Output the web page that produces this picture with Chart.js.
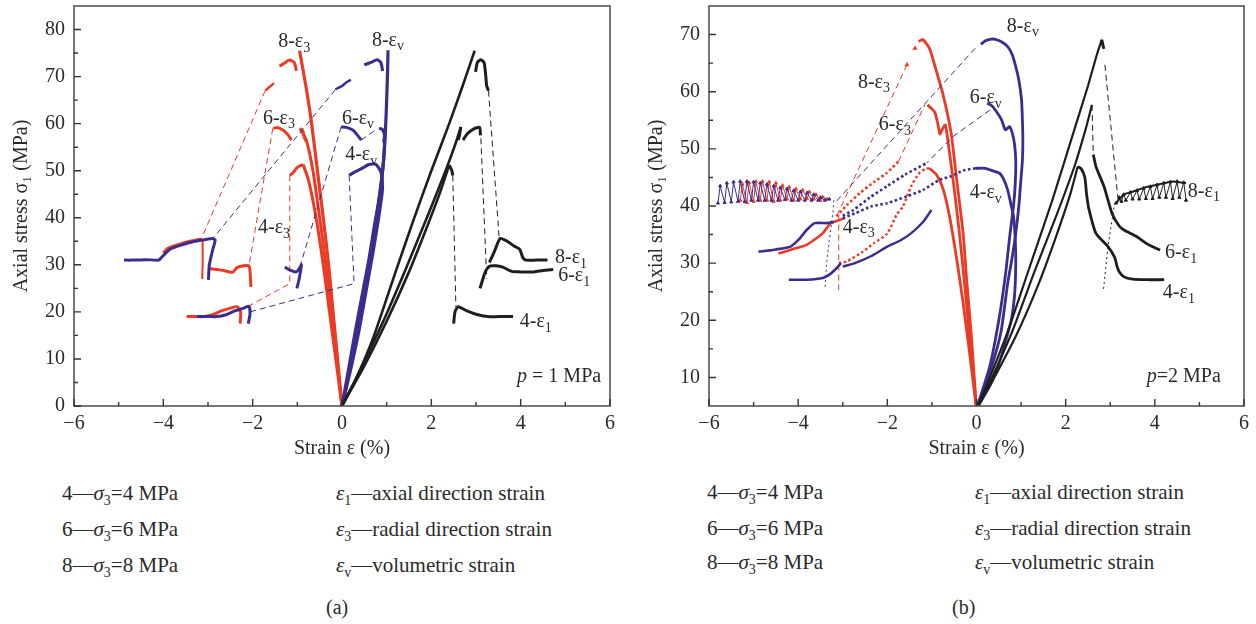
<!DOCTYPE html>
<html><head><meta charset="utf-8">
<script src="https://cdn.jsdelivr.net/npm/chart.js@4.4.1/dist/chart.umd.min.js"></script>
<style>
html,body{margin:0;padding:0;background:#fff;}
#wrap{position:relative;width:1256px;height:624px;overflow:hidden;font-family:"Liberation Serif",serif;color:#2a2a2a;}
canvas{position:absolute;top:0;}
.lg{position:absolute;font-size:21px;line-height:24px;white-space:nowrap;}
.lg sub{font-size:14px;vertical-align:-5px;line-height:0;}
.cap{position:absolute;font-size:20px;line-height:24px;}
</style></head>
<body><div id="wrap">
<canvas id="ca" width="640" height="461" style="left:0"></canvas>
<canvas id="cb" width="616" height="461" style="left:640px"></canvas>
<div class="lg" style="left:62px;top:481px">4—<i>σ</i><sub>3</sub>=4 MPa</div>
<div class="lg" style="left:62px;top:517px">6—<i>σ</i><sub>3</sub>=6 MPa</div>
<div class="lg" style="left:62px;top:553px">8—<i>σ</i><sub>3</sub>=8 MPa</div>
<div class="lg" style="left:336px;top:481px"><i>ε</i><sub>1</sub>—axial direction strain</div>
<div class="lg" style="left:336px;top:517px"><i>ε</i><sub>3</sub>—radial direction strain</div>
<div class="lg" style="left:336px;top:553px"><i>ε</i><sub>v</sub>—volumetric strain</div>
<div class="lg" style="left:707px;top:480px">4—<i>σ</i><sub>3</sub>=4 MPa</div>
<div class="lg" style="left:707px;top:516px">6—<i>σ</i><sub>3</sub>=6 MPa</div>
<div class="lg" style="left:707px;top:550px">8—<i>σ</i><sub>3</sub>=8 MPa</div>
<div class="lg" style="left:975px;top:480px"><i>ε</i><sub>1</sub>—axial direction strain</div>
<div class="lg" style="left:975px;top:516px"><i>ε</i><sub>3</sub>—radial direction strain</div>
<div class="lg" style="left:975px;top:550px"><i>ε</i><sub>v</sub>—volumetric strain</div>
<div class="cap" style="left:326px;top:595px">(a)</div>
<div class="cap" style="left:952px;top:595px">(b)</div>
</div>
<script>
// ---------- tick values ----------
const xTicks = [-6,-4,-2,0,2,4,6];
const xMinor = [-5,-3,-1,1,3,5];
const yTicksA = [0,10,20,30,40,50,60,70,80];
const yMinorA = [5,15,25,35,45,55,65,75];
const yTicksB = [10,20,30,40,50,60,70];
const yMinorB = [15,25,35,45,55,65];

// ---------- chart (a): p = 1 MPa ----------
const a_e1_8 = [[0,0],[0.3,5.5],[0.7,14.5],[1.2,28.5],[1.6,39.5],[2.0,50],[2.4,60],[2.7,68],[2.97,75.5]];
const a_e1_8_post = [[2.99,71],[3.03,73],[3.1,73.6],[3.18,73],[3.22,70],[3.24,68],[3.28,67]];
const a_e1_8_dash = [[3.28,67],[3.52,35.5]];
const a_e1_8_res = [[3.3,30.5],[3.42,33],[3.54,35.6],[3.7,35],[3.85,34],[3.98,33.3],[4.05,31.5],[4.12,31],[4.35,31],[4.6,31]];
const a_e1_6 = [[0,0],[0.4,7.5],[0.9,17.5],[1.4,28.5],[1.9,40],[2.3,49.5],[2.55,56],[2.66,59.3]];
const a_e1_6_post1 = [[2.66,59.3],[2.63,57.5],[2.6,56.5]];
const a_e1_6_post2 = [[2.71,56.5],[2.8,57.8],[2.95,58.9],[3.08,59.2],[3.1,57.5]];
const a_e1_6_dash = [[3.1,59],[3.24,27]];
const a_e1_6_res = [[3.09,25],[3.2,28.3],[3.3,29.7],[3.45,29.8],[3.6,29.5],[3.8,28.6],[4.0,28.5],[4.3,28.5],[4.5,28.8],[4.73,29]];
const a_e1_4 = [[0,0],[0.5,8.5],[1.0,18],[1.5,28.5],[1.9,38],[2.2,45.5],[2.4,51.2]];
const a_e1_4_post = [[2.4,51.2],[2.46,50],[2.48,49]];
const a_e1_4_dash = [[2.48,49],[2.55,21]];
const a_e1_4_res = [[2.5,17.5],[2.53,20],[2.6,21.1],[2.8,20.2],[3.0,19.5],[3.25,19],[3.5,19],[3.83,19]];

const a_e3_8 = [[0,0],[-0.1,10],[-0.2,20],[-0.3,30],[-0.42,40],[-0.55,50],[-0.68,60],[-0.8,67.5],[-0.95,75.5]];
const a_e3_8_post = [[-1.02,71.2],[-1.07,73],[-1.17,73.5],[-1.3,72.8],[-1.4,72.2]];
const a_e3_8_pre = [[-1.72,67],[-1.6,68],[-1.52,68.6]];
const a_e3_8_dash = [[-1.72,67],[-3.15,35.5]];
const a_e3_8_res = [[-3.15,35.5],[-3.4,35],[-3.6,34.5],[-3.9,33.5],[-4.0,32.5]];
const a_e3_8_drop = [[-3.12,35.5],[-3.12,30],[-3.13,27]];
const a_e3_6 = [[0,0],[-0.12,10],[-0.24,20],[-0.36,30],[-0.5,40],[-0.65,50],[-0.8,56.5],[-0.94,59]];
const a_e3_6_post1 = [[-1.54,59],[-1.45,59.2],[-1.3,58.5],[-1.2,57.5],[-1.13,56.5]];
const a_e3_6_post2 = [[-0.94,59],[-0.88,58.5],[-0.84,57],[-0.8,56.2]];
const a_e3_6_dash = [[-1.55,59],[-2.08,30]];
const a_e3_6_res = [[-3.0,29.2],[-2.8,29],[-2.6,28.7],[-2.45,28.4],[-2.35,29.4],[-2.2,29.8],[-2.08,29.7],[-2.05,27.5],[-2.04,25.3]];
const a_e3_4 = [[0,0],[-0.14,10],[-0.28,20],[-0.42,30],[-0.58,40],[-0.75,48],[-0.87,51.3]];
const a_e3_4_post = [[-0.87,51.3],[-0.95,51],[-1.02,50.5],[-1.1,49.5],[-1.17,49]];
const a_e3_4_dash = [[-1.17,49],[-1.17,26],[-2.06,21.4]];
const a_e3_4_res = [[-3.48,19],[-3.3,19],[-3.1,19],[-2.9,19.4],[-2.7,20.2],[-2.5,20.8],[-2.35,21.1],[-2.27,20],[-2.28,17.5]];

const a_ev_8 = [[0,0],[0.16,8.5],[0.3,16],[0.45,23.5],[0.6,31],[0.72,38],[0.83,44],[0.92,51],[0.97,58],[1.0,65],[1.02,71],[1.03,75.6]];
const a_ev_8_post = [[0.91,71.2],[0.87,73],[0.78,73.6],[0.65,73],[0.5,72.5]];
const a_ev_8_pre = [[-0.15,67.3],[0.0,68],[0.1,68.8],[0.2,69.3]];
const a_ev_8_dash = [[-0.15,67.2],[-2.9,35.5]];
const a_ev_8_res = [[-2.99,26.8],[-2.97,30],[-2.9,33],[-2.84,35.3],[-2.9,35.6],[-3.1,35.3],[-3.3,35],[-3.6,34.2],[-3.85,33.3],[-4.05,31.5],[-4.1,31],[-4.4,31.1],[-4.7,31],[-4.88,31]];
const a_ev_6 = [[0,0],[0.18,8],[0.35,17],[0.5,25],[0.65,33],[0.77,40],[0.86,46],[0.92,51],[0.95,55],[0.96,59]];
const a_ev_6_post1 = [[-0.02,59.3],[0.1,59.2],[0.25,58.6],[0.35,57.5],[0.43,56.5]];
const a_ev_6_post2 = [[0.83,59],[0.9,58.8],[0.95,57.5],[0.93,56]];
const a_ev_6_dash1 = [[-0.02,59.3],[-0.94,29.6]];
const a_ev_6_dash2 = [[0.43,56.5],[0.8,59]];
const a_ev_6_res = [[-1.28,29.5],[-1.15,28.8],[-1.02,28.5],[-0.95,29.3],[-0.91,30],[-0.96,27],[-1.01,25]];
const a_ev_4 = [[0,0],[0.2,8],[0.38,16],[0.55,25],[0.7,33],[0.82,40],[0.9,45.5],[0.9,48],[0.86,50],[0.75,51.4],[0.6,51.3],[0.45,50.5],[0.3,49.8],[0.16,49]];
const a_ev_4_dash = [[0.16,49],[0.27,26],[-2.06,20]];
const a_ev_4_res = [[-3.25,19],[-3.0,19],[-2.8,19],[-2.6,19.4],[-2.4,20.2],[-2.2,20.8],[-2.08,21.2],[-2.06,19.5],[-2.1,17.5]];

// ---------- chart (b): p = 2 MPa ----------
const b_e1_8 = [[0,4.5],[0.3,10],[0.7,18],[1.2,29.5],[1.7,41],[2.2,53.5],[2.5,61],[2.7,66.5],[2.81,69.1]];
const b_e1_8_post = [[2.81,69.1],[2.84,68],[2.86,67.5]];
const b_e1_8_dash = [[2.88,64.7],[3.17,41.5]];
const b_e1_8_dot = [[2.85,25.5],[2.95,33],[3.1,40.5]];
const b_e1_8_res = [[3.13,40.5],[3.2,41.5],[3.25,40.8],[3.3,42],[3.35,41],[3.45,42.4],[3.5,41.2],[3.6,42.7],[3.65,41.2],[3.75,43.1],[3.8,41.3],[3.9,43.4],[3.95,41.3],[4.05,43.7],[4.1,41.5],[4.2,44],[4.25,41.5],[4.35,44.2],[4.4,41.3],[4.5,44.3],[4.55,41.5],[4.65,44.1],[4.7,41]];
const b_e1_8_top = [[3.13,40.5],[3.3,42],[3.5,42.5],[3.8,43.3],[4.1,43.8],[4.4,44.3],[4.7,44]];
const b_e1_6 = [[0,4.5],[0.35,10],[0.8,18],[1.3,28.5],[1.8,38.5],[2.2,47],[2.45,53.5],[2.59,57.7]];
const b_e1_6_dash = [[2.59,57.7],[2.62,49]];
const b_e1_6_post = [[2.62,49],[2.68,46.9],[2.86,43.4],[3.04,38.7],[3.2,36.5],[3.31,35.8],[3.58,34.7],[3.8,33.5],[3.94,32.9],[4.12,32.3]];
const b_e1_4 = [[0,4.5],[0.4,10],[0.9,17.5],[1.4,26.5],[1.8,35],[2.1,42],[2.27,46.9]];
const b_e1_4_post = [[2.27,46.9],[2.35,46.5],[2.43,45],[2.47,42],[2.52,39.5],[2.68,35.2],[2.95,32.9],[3.1,31],[3.15,29.5],[3.2,28.5],[3.31,27.6],[3.5,27.2],[3.8,27.1],[4.21,27.1]];

const b_e3_8 = [[0,4.5],[-0.12,17.7],[-0.22,27],[-0.3,35.2],[-0.45,45],[-0.57,52.8],[-0.75,59.5],[-0.93,64.4],[-1.05,67.5],[-1.2,69.1],[-1.3,68.8]];
const b_e3_8_pre = [[-1.38,67.6],[-1.56,64.7]];
const b_e3_8_dash = [[-1.56,64.7],[-3.12,38.5]];
const b_e3_8_res = [[-5.3,41],[-5.25,43.8],[-5.15,40.6],[-5.1,44.1],[-5.0,40.8],[-4.95,44.3],[-4.85,41],[-4.8,44.3],[-4.7,41],[-4.65,44.2],[-4.55,40.8],[-4.5,44],[-4.4,41],[-4.35,43.6],[-4.25,41.2],[-4.2,43.3],[-4.1,41],[-4.05,43],[-3.95,41.2],[-3.9,42.8],[-3.8,41.3],[-3.75,42.5],[-3.65,41.2],[-3.6,42],[-3.5,41],[-3.45,41.6],[-3.35,41.2]];
const b_e3_6 = [[-1.1,57.7],[-1.0,57],[-0.93,56.3],[-0.87,54.5],[-0.82,52.6],[-0.78,53.2],[-0.7,54.2],[-0.66,52.5],[-0.6,49],[-0.5,43],[-0.38,35],[-0.25,25],[-0.12,14],[0,4.5]];
const b_e3_6_pre = [[-3.14,38.2],[-2.9,40.2],[-2.61,42.3],[-2.3,44.2],[-2.01,45.8],[-1.75,47.8]];
const b_e3_6_dash = [[-1.75,47.8],[-1.16,57.7]];
const b_e3_4 = [[-1.06,46.6],[-0.9,45.5],[-0.75,43],[-0.6,38],[-0.45,31],[-0.3,23],[-0.15,14],[0,4.5]];
const b_e3_4_pre = [[-3.09,30],[-2.91,30.3],[-2.55,32],[-2.3,33.5],[-2.0,35.2],[-1.79,38.5],[-1.65,39.9],[-1.47,43.4],[-1.29,45.7],[-1.15,46.5],[-1.06,46.6]];
const b_e3_res = [[-4.44,31.7],[-4.1,32.5],[-3.81,33.2],[-3.6,34.3],[-3.45,35.2],[-3.27,37],[-3.09,37.5],[-2.95,37.9]];
const b_e3_drop = [[-3.09,38.5],[-3.09,25.3]];

const b_ev_8 = [[0,4.5],[0.34,11.9],[0.55,18],[0.7,26.5],[0.8,31],[0.88,35.2],[0.95,40],[0.99,44],[1.03,48],[1.04,51.6],[1.03,55],[1.01,58.6],[0.95,62],[0.88,64.4],[0.8,66.5],[0.7,67.9],[0.55,68.8],[0.4,69.2],[0.33,69.2],[0.2,68.9],[0.1,68.3]];
const b_ev_8_dash = [[-0.03,67.6],[-3.18,40.5]];
const b_ev_8_res = [[-5.8,40.5],[-5.75,43.5],[-5.65,40.6],[-5.6,44],[-5.5,40.7],[-5.45,44.2],[-5.35,40.8],[-5.3,44.3],[-5.2,40.8],[-5.15,44.3],[-5.05,41],[-5.0,44.2],[-4.9,41],[-4.85,44],[-4.75,41],[-4.7,43.8],[-4.6,41],[-4.55,43.5],[-4.45,41],[-4.4,43.2],[-4.3,41.1],[-4.25,43],[-4.15,41],[-4.1,42.7],[-4.0,41],[-3.95,42.5],[-3.85,41],[-3.8,42.3],[-3.7,41],[-3.65,42],[-3.55,41],[-3.5,41.5],[-3.4,41],[-3.3,41.2]];
const b_ev_6 = [[0,4.5],[0.3,12],[0.5,20],[0.65,28],[0.75,35],[0.83,40],[0.87,44],[0.88,48],[0.85,51],[0.8,52.8],[0.74,53.9],[0.65,53.3],[0.56,55.1],[0.45,56.5],[0.35,57.5],[0.24,58]];
const b_ev_6_dash = [[0.3,56.8],[-0.52,52.2],[-1.12,47.5]];
const b_ev_6_pre = [[-3.0,38.3],[-2.76,39.3],[-2.39,41.5],[-2.0,43.5],[-1.6,45.5],[-1.12,47.5]];
const b_ev_4 = [[-0.03,46.6],[0.2,46.6],[0.35,46.2],[0.52,45.7],[0.62,44.5],[0.7,42.8],[0.78,40],[0.83,38.2],[0.87,34],[0.88,29.4],[0.85,24],[0.78,20],[0.7,17.7],[0.55,13.5],[0.33,9],[0,4.5]];
const b_ev_4_pre = [[-3.0,37.9],[-2.73,38.7],[-2.37,39.9],[-2.0,40.5],[-1.56,41.7],[-1.2,42.8],[-0.83,44.6],[-0.57,45.2],[-0.3,46.2],[-0.03,46.6]];
const b_ev_4_low = [[-3.0,29.4],[-2.73,30],[-2.37,31.2],[-2.0,32.9],[-1.7,34],[-1.47,35.2],[-1.2,37.2],[-1.01,39.3]];
const b_ev_res_left = [[-4.89,32],[-4.5,32.4],[-4.17,32.9],[-3.99,34.1],[-3.81,35.8],[-3.63,37],[-3.36,37],[-3.2,37.2]];
const b_ev_res_low = [[-4.21,27.1],[-3.8,27.1],[-3.45,27.4],[-3.3,28],[-3.18,28.8],[-3.04,30]];
const b_ev_drop = [[-3.2,41],[-3.22,39],[-3.25,37],[-3.3,34],[-3.35,31],[-3.38,28],[-3.4,25.5]];

// ---------- curve labels ----------
const labelsA = [
  {x:-1.43,y:77.3,parts:[["8-ε"],["3",1]]},
  {x:0.67,y:77.7,parts:[["8-ε"],["v",1]]},
  {x:-1.77,y:61.1,parts:[["6-ε"],["3",1]]},
  {x:0.0,y:61.1,parts:[["6-ε"],["v",1]]},
  {x:0.07,y:53.3,parts:[["4-ε"],["v",1]]},
  {x:-1.88,y:37.8,parts:[["4-ε"],["3",1]]},
  {x:4.77,y:31.4,parts:[["8-ε"],["1",1]]},
  {x:4.84,y:27.6,parts:[["6-ε"],["1",1]]},
  {x:3.98,y:17.8,parts:[["4-ε"],["1",1]]},
  {x:3.92,y:6.2,parts:[["p",0,1],[" = 1 MPa"]]}
];
const labelsB = [
  {x:0.68,y:71.4,parts:[["8-ε"],["v",1]]},
  {x:-2.66,y:61.6,parts:[["8-ε"],["3",1]]},
  {x:-0.15,y:58.9,parts:[["6-ε"],["v",1]]},
  {x:-2.19,y:54.2,parts:[["6-ε"],["3",1]]},
  {x:-0.15,y:42.3,parts:[["4-ε"],["v",1]]},
  {x:-3.0,y:36.2,parts:[["4-ε"],["3",1]]},
  {x:4.74,y:42.5,parts:[["8-ε"],["1",1]]},
  {x:4.23,y:31.8,parts:[["6-ε"],["1",1]]},
  {x:4.18,y:24.8,parts:[["4-ε"],["1",1]]},
  {x:3.82,y:10.1,parts:[["p",0,1],["=2 MPa"]]}
];

// ---------- helpers ----------
const RED='#eb3b25', BLUE='#3b2c8e', BLACK='#1e1e1e';
const FONT='"Liberation Serif", "Times New Roman", serif';
const pts = a => a.map(([x,y]) => ({x,y}));
const solid = (d,c,w=3) => ({data:pts(d),borderColor:c,backgroundColor:c,borderWidth:w,showLine:true,pointRadius:0,tension:0.2});
const dash = (d,c) => ({data:pts(d),borderColor:c,backgroundColor:c,borderWidth:1,borderDash:[6,4],showLine:true,pointRadius:0,tension:0});
const dotted = (d,c) => ({data:pts(d),borderColor:c,backgroundColor:c,borderWidth:1,borderDash:[2,3],showLine:true,pointRadius:0,tension:0});
const beads = (d,c,w=2.6) => ({data:pts(d),borderColor:c,backgroundColor:c,borderWidth:w,borderDash:[2.5,2.5],showLine:true,pointRadius:0,tension:0.2});
const tri = (d,c,r=2.4) => ({data:pts(d),borderColor:c,backgroundColor:c,showLine:false,pointStyle:'triangle',pointRadius:r,borderWidth:0.5});
const comb = (d,c) => ({data:pts(d),borderColor:c,backgroundColor:c,borderWidth:1,showLine:true,pointStyle:'triangle',pointRadius:1.8,tension:0});

const frame = {
  id:'frame',
  afterDraw(chart, args, o){
    const {ctx, chartArea:a, scales:{x,y}} = chart;
    ctx.save();
    ctx.strokeStyle='#555'; ctx.lineWidth=1.6;
    ctx.strokeRect(a.left, a.top, a.right-a.left, a.bottom-a.top);
    ctx.strokeStyle='#333'; ctx.lineWidth=1.4;
    ctx.beginPath();
    o.xMaj.forEach(v=>{const p=x.getPixelForValue(v); ctx.moveTo(p,a.bottom); ctx.lineTo(p,a.bottom-7);});
    o.xMin.forEach(v=>{const p=x.getPixelForValue(v); ctx.moveTo(p,a.bottom); ctx.lineTo(p,a.bottom-4);});
    o.yMaj.forEach(v=>{const p=y.getPixelForValue(v); ctx.moveTo(a.left,p); ctx.lineTo(a.left+7,p);});
    o.yMin.forEach(v=>{const p=y.getPixelForValue(v); ctx.moveTo(a.left,p); ctx.lineTo(a.left+4,p);});
    ctx.stroke();
    ctx.restore();
  }
};
const curveLabels = {
  id:'curveLabels',
  afterDatasetsDraw(chart, args, o){
    const {ctx, scales:{x,y}} = chart;
    ctx.save(); ctx.fillStyle='#2a2a2a'; ctx.textBaseline='middle'; ctx.textAlign='left';
    o.items.forEach(it=>{
      let px=x.getPixelForValue(it.x); const py=y.getPixelForValue(it.y);
      it.parts.forEach(([t,sub,ital])=>{
        ctx.font=(ital?'italic ':'')+(sub?14:20)+'px '+FONT;
        ctx.fillText(t, px, py+(sub?6:0));
        px+=ctx.measureText(t).width;
      });
    });
    ctx.restore();
  }
};

function makeChart(id, datasets, ymin, ymax, yMaj, yMin, labels, yW, pad){
  const fmt = v => v<0 ? '\u2212'+Math.abs(v) : String(v);
  return new Chart(document.getElementById(id), {
    type:'scatter',
    data:{datasets},
    plugins:[frame, curveLabels],
    options:{
      responsive:false, animation:false, events:[],
      layout:{padding:{left:pad.left,right:pad.right,top:pad.top,bottom:pad.bottom}},
      plugins:{legend:{display:false}, tooltip:{enabled:false},
        frame:{xMaj:xTicks,xMin:xMinor,yMaj,yMin}, curveLabels:{items:labels}},
      scales:{
        x:{type:'linear',min:-6,max:6,
          afterBuildTicks:s=>{s.ticks=xTicks.map(v=>({value:v}));},
          afterFit:s=>{s.height=55; s.paddingLeft=0; s.paddingRight=0;},
          grid:{display:false,drawTicks:false}, border:{display:false},
          ticks:{padding:6,color:'#2a2a2a',font:{family:FONT,size:20},callback:fmt,maxRotation:0,autoSkip:false},
          title:{display:true,text:'Strain ε (%)',color:'#2a2a2a',font:{family:FONT,size:20},padding:{top:0,bottom:0}}},
        y:{type:'linear',min:ymin,max:ymax,
          afterBuildTicks:s=>{s.ticks=yMaj.map(v=>({value:v}));},
          afterFit:s=>{s.width=yW; s.paddingTop=0; s.paddingBottom=0;},
          grid:{display:false,drawTicks:false}, border:{display:false},
          ticks:{padding:9,color:'#2a2a2a',font:{family:FONT,size:20},callback:fmt,autoSkip:false},
          title:{display:true,text:'Axial stress σ₁ (MPa)',color:'#2a2a2a',font:{family:FONT,size:20},padding:{top:pad.ttl,bottom:0}}}
      }
    }
  });
}

const dsA = [
  solid(a_e1_8,BLACK,2.6), solid(a_e1_8_post,BLACK), dash(a_e1_8_dash,BLACK), solid(a_e1_8_res,BLACK),
  solid(a_e1_6,BLACK,2.6), solid(a_e1_6_post1,BLACK), solid(a_e1_6_post2,BLACK), dash(a_e1_6_dash,BLACK), solid(a_e1_6_res,BLACK),
  solid(a_e1_4,BLACK,2.6), solid(a_e1_4_post,BLACK), dash(a_e1_4_dash,BLACK), solid(a_e1_4_res,BLACK),
  solid(a_ev_8,BLUE,3.2), solid(a_ev_8_post,BLUE), solid(a_ev_8_pre,BLUE,2.4), dash(a_ev_8_dash,BLUE), solid(a_ev_8_res,BLUE),
  solid(a_ev_6,BLUE,3.2), solid(a_ev_6_post1,BLUE), solid(a_ev_6_post2,BLUE), dash(a_ev_6_dash1,BLUE), dash(a_ev_6_dash2,BLUE), solid(a_ev_6_res,BLUE),
  solid(a_ev_4,BLUE,3.2), dash(a_ev_4_dash,BLUE), solid(a_ev_4_res,BLUE),
  solid(a_e3_8,RED,3.2), solid(a_e3_8_post,RED), solid(a_e3_8_pre,RED,2.4), dash(a_e3_8_dash,RED), solid(a_e3_8_res,RED), solid(a_e3_8_drop,RED,2),
  solid(a_e3_6,RED,3), solid(a_e3_6_post1,RED), solid(a_e3_6_post2,RED), dash(a_e3_6_dash,RED), solid(a_e3_6_res,RED),
  solid(a_e3_4,RED,3), solid(a_e3_4_post,RED), dash(a_e3_4_dash,RED), solid(a_e3_4_res,RED)
];
const dsB = [
  solid(b_e1_8,BLACK,2.2), solid(b_e1_8_post,BLACK), dash(b_e1_8_dash,BLACK), dotted(b_e1_8_dot,BLACK), comb(b_e1_8_res,BLACK), solid(b_e1_8_top,BLACK,2),
  solid(b_e1_6,BLACK,2.2), dash(b_e1_6_dash,BLACK), solid(b_e1_6_post,BLACK,2.8),
  solid(b_e1_4,BLACK,2.2), solid(b_e1_4_post,BLACK,2.8),
  solid(b_ev_8,BLUE,2.8), dash(b_ev_8_dash,BLUE), comb(b_ev_8_res,BLUE),
  solid(b_ev_6,BLUE,2.8), dash(b_ev_6_dash,BLUE), beads(b_ev_6_pre,BLUE),
  solid(b_ev_4,BLUE,2.8), beads(b_ev_4_pre,BLUE), solid(b_ev_4_low,BLUE,2.4),
  solid(b_ev_res_left,BLUE,2.6), solid(b_ev_res_low,BLUE,2.6), dotted(b_ev_drop,BLUE),
  solid(b_e3_8,RED,2.8), tri(b_e3_8_pre,RED,2.5), dash(b_e3_8_dash,RED), comb(b_e3_8_res,RED),
  solid(b_e3_6,RED,2.8), beads(b_e3_6_pre,RED), dash(b_e3_6_dash,RED),
  solid(b_e3_4,RED,2.8), beads(b_e3_4_pre,RED,2.4),
  solid(b_e3_res,RED,2.6), dash(b_e3_drop,RED)
];

makeChart('ca', dsA, 0, 85, yTicksA, yMinorA, labelsA, 74, {left:0,right:30,top:6,bottom:0,ttl:10});
makeChart('cb', dsB, 5, 75, yTicksB, yMinorB, labelsB, 69, {left:0,right:12,top:6,bottom:0,ttl:5});
</script>
</body></html>
